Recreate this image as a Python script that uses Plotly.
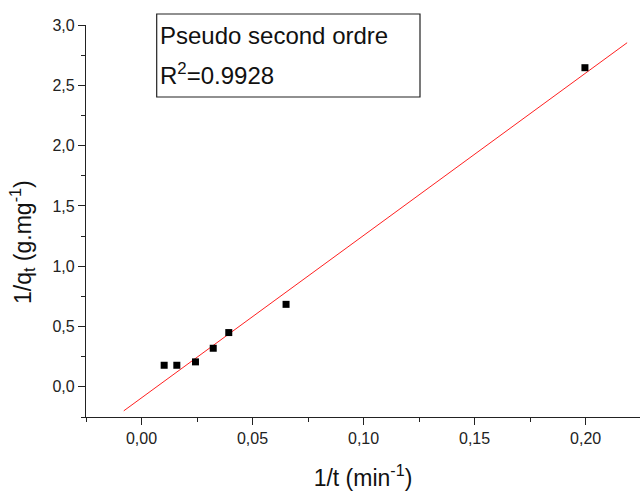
import plotly.graph_objects as go

inv_t = [0.0102, 0.0159, 0.0243, 0.0323, 0.0393, 0.0651, 0.1997]
inv_qt = [0.179, 0.179, 0.207, 0.320, 0.450, 0.684, 2.646]
fit_x = [-0.0080, 0.2187]
fit_y = [-0.199, 2.853]

fig = go.Figure()
fig.add_trace(go.Scatter(x=fit_x, y=fit_y, mode="lines",
                         line=dict(color="#ff2020", width=1), showlegend=False))
fig.add_trace(go.Scatter(x=inv_t, y=inv_qt, mode="markers",
                         marker=dict(symbol="square", size=7, color="black"),
                         showlegend=False))

axis_common = dict(showgrid=False, zeroline=False, showline=True,
                   linecolor="#222", linewidth=1.3, ticks="outside",
                   ticklen=7, tickwidth=1.2, tickcolor="#222",
                   tickfont=dict(family="Liberation Sans, Arial", size=16, color="#222"),
                   minor=dict(ticks="outside", ticklen=4, tickcolor="#222", tickwidth=1.2))

fig.update_layout(
    width=640, height=491,
    margin=dict(l=86, r=0, t=25, b=74),
    plot_bgcolor="white", paper_bgcolor="white",
    separators=", ",
    font=dict(family="Liberation Sans, Arial", color="#111"),
    xaxis=dict(range=[-0.025, 0.2245], tickvals=[0, 0.05, 0.10, 0.15, 0.20],
               tickformat=".2f",
               title=dict(text="1/t (min<sup>-1</sup>)", font=dict(size=23), standoff=24),
               **axis_common),
    yaxis=dict(range=[-0.25, 3.0], tickvals=[0, 0.5, 1, 1.5, 2, 2.5, 3],
               tickformat=".1f",
               **axis_common),
)
fig.update_xaxes(minor=dict(tickvals=[-0.025, 0.025, 0.075, 0.125, 0.175, 0.225]))
fig.update_yaxes(minor=dict(tickvals=[-0.25, 0.25, 0.75, 1.25, 1.75, 2.25, 2.75]))

fig.add_annotation(xref="paper", yref="paper", x=(22 - 86) / 554, y=(417 - 242) / 392,
                   xanchor="center", yanchor="middle", showarrow=False, textangle=-90,
                   text="1/q<sub>t</sub> (g.mg<sup>-1</sup>)", font=dict(size=23, color="#111"))

fig.add_shape(type="rect", xref="paper", yref="paper",
              x0=(156.7 - 86) / 554, x1=(420 - 86) / 554,
              y0=(417 - 97) / 392, y1=(417 - 14) / 392,
              line=dict(color="#222", width=1.2), fillcolor="white")
fig.add_annotation(xref="paper", yref="paper", x=(158 - 86) / 554, y=(417 - 36) / 392,
                   xanchor="left", yanchor="middle", showarrow=False,
                   text="Pseudo second ordre", font=dict(size=24, color="#111"))
fig.add_annotation(xref="paper", yref="paper", x=(158 - 86) / 554, y=(417 - 74) / 392,
                   xanchor="left", yanchor="middle", showarrow=False,
                   text="R<sup>2</sup>=0.9928", font=dict(size=24, color="#111"))

fig.write_html("out.html")
